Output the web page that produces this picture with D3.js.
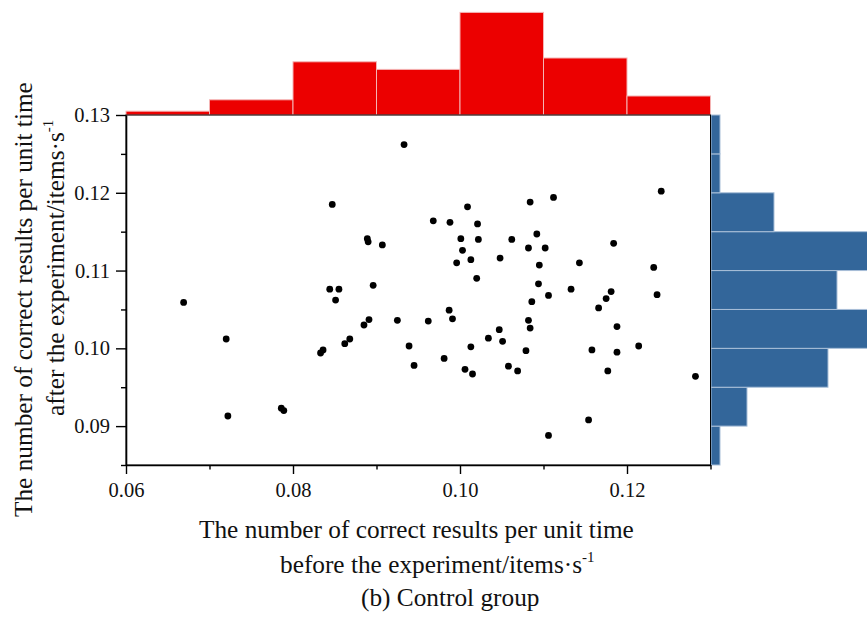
<!DOCTYPE html>
<html>
<head>
<meta charset="utf-8">
<script src="https://cdn.jsdelivr.net/npm/d3@7"></script>
<style>
  body { margin: 0; background: #fff; }
  svg { display: block; font-family: "Liberation Serif", "Times New Roman", serif; }
</style>
</head>
<body>
<svg id="chart" width="867" height="619"></svg>
<script>
// scatter values (before, after)
const before = [
  0.0933, 0.0847, 0.0889, 0.0890, 0.0907, 0.0844, 0.0855, 0.0851, 0.0896, 0.0669,
  0.0891, 0.0885, 0.0925, 0.0720, 0.0862, 0.0868, 0.0833, 0.0836, 0.0939, 0.0945,
  0.0722, 0.0786, 0.0789, 0.1241, 0.1112, 0.1084, 0.1009, 0.0968, 0.0988, 0.1021,
  0.1092, 0.1001, 0.1022, 0.1062, 0.1184, 0.1082, 0.1102, 0.1003, 0.1013, 0.1048,
  0.0996, 0.1143, 0.1095, 0.1232, 0.1020, 0.1094, 0.1133, 0.1181, 0.1106, 0.1236,
  0.1175, 0.1086, 0.1166, 0.0987, 0.0991, 0.0962, 0.1082, 0.1084, 0.1047, 0.1188,
  0.1034, 0.1051, 0.1013, 0.1214, 0.1079, 0.1158, 0.1188, 0.0981, 0.1058, 0.1006,
  0.1069, 0.1177, 0.1015, 0.1282, 0.1154, 0.1106
];
const after = [
  0.1262, 0.1185, 0.1141, 0.1137, 0.1133, 0.1076, 0.1076, 0.1062, 0.1081, 0.1059,
  0.1037, 0.1030, 0.1036, 0.1012, 0.1006, 0.1012, 0.0994, 0.0998, 0.1003, 0.0978,
  0.0913, 0.0923, 0.0920, 0.1202, 0.1194, 0.1188, 0.1182, 0.1164, 0.1162, 0.1160,
  0.1147, 0.1141, 0.1140, 0.1140, 0.1135, 0.1129, 0.1129, 0.1126, 0.1114, 0.1116,
  0.1110, 0.1110, 0.1107, 0.1104, 0.1090, 0.1083, 0.1076, 0.1073, 0.1068, 0.1069,
  0.1064, 0.1060, 0.1052, 0.1049, 0.1038, 0.1035, 0.1036, 0.1026, 0.1024, 0.1028,
  0.1013, 0.1009, 0.1002, 0.1003, 0.0997, 0.0998, 0.0995, 0.0987, 0.0977, 0.0973,
  0.0971, 0.0971, 0.0967, 0.0964, 0.0908, 0.0888
];

// marginal histograms (counts)
const topBinEdges = [0.06, 0.07, 0.08, 0.09, 0.10, 0.11, 0.12, 0.13];
const topBinCounts = [1, 4, 14, 12, 27, 15, 5];
const sideBinEdges = [0.085, 0.09, 0.095, 0.10, 0.105, 0.11, 0.115, 0.12, 0.125, 0.13];
const sideBinCounts = [1, 4, 13, 19, 14, 18, 7, 1, 1];

const xMajorTicks = [0.06, 0.08, 0.10, 0.12];
const xMinorTicks = [0.07, 0.09, 0.11, 0.13];
const yMajorTicks = [0.09, 0.10, 0.11, 0.12, 0.13];
const yMinorTicks = [0.085, 0.095, 0.105, 0.115, 0.125];

const svg = d3.select('#chart');

const x = d3.scaleLinear().domain([0.06, 0.13]).range([126, 710.5]);
const y = d3.scaleLinear().domain([0.085, 0.13]).range([465, 115]);
const topH = d3.scaleLinear().domain([0, 30]).range([115, 1]);
const sideW = d3.scaleLinear().domain([0, 20]).range([711, 891]);

// top histogram
svg.append('g')
  .selectAll('rect')
  .data(topBinCounts)
  .enter().append('rect')
    .attr('x', function(d, i) { return x(topBinEdges[i]); })
    .attr('width', function(d, i) { return x(topBinEdges[i + 1]) - x(topBinEdges[i]); })
    .attr('y', function(d) { return topH(d); })
    .attr('height', function(d) { return topH(0) - topH(d); })
    .attr('fill', '#ec0000')
    .attr('stroke', '#f4b4b4')
    .attr('stroke-width', 1);

// side histogram
svg.append('g')
  .selectAll('rect')
  .data(sideBinCounts)
  .enter().append('rect')
    .attr('x', sideW(0))
    .attr('y', function(d, i) { return y(sideBinEdges[i + 1]); })
    .attr('height', function(d, i) { return y(sideBinEdges[i]) - y(sideBinEdges[i + 1]); })
    .attr('width', function(d) { return sideW(d) - sideW(0); })
    .attr('fill', '#33669a')
    .attr('stroke', '#a9bfd8')
    .attr('stroke-width', 1);

// frame
svg.append('rect')
  .attr('x', x(0.06)).attr('y', y(0.13))
  .attr('width', x(0.13) - x(0.06)).attr('height', y(0.085) - y(0.13))
  .attr('fill', 'none').attr('stroke', '#000').attr('stroke-width', 1);

// axes
svg.append('g')
  .attr('transform', 'translate(0,' + y(0.085) + ')')
  .call(d3.axisBottom(x).tickValues(xMajorTicks).tickFormat(d3.format('.2f'))
    .tickSize(9).tickSizeOuter(0).tickPadding(8));
svg.append('g')
  .attr('transform', 'translate(0,' + y(0.085) + ')')
  .call(d3.axisBottom(x).tickValues(xMinorTicks).tickFormat('').tickSize(4.5).tickSizeOuter(0))
  .select('.domain').remove();

svg.append('g')
  .attr('transform', 'translate(' + x(0.06) + ',0)')
  .call(d3.axisLeft(y).tickValues(yMajorTicks).tickFormat(d3.format('.2f'))
    .tickSize(10).tickSizeOuter(0).tickPadding(6));
svg.append('g')
  .attr('transform', 'translate(' + x(0.06) + ',0)')
  .call(d3.axisLeft(y).tickValues(yMinorTicks).tickFormat('').tickSize(5).tickSizeOuter(0))
  .select('.domain').remove();

svg.selectAll('.domain').attr('stroke-width', 1.6);
svg.selectAll('.tick line').attr('stroke-width', 1.4);
svg.selectAll('.tick text')
  .attr('font-family', '"Liberation Serif", serif')
  .attr('font-size', 20.5)
  .attr('fill', '#111');

// points
svg.append('g')
  .selectAll('circle')
  .data(before)
  .enter().append('circle')
    .attr('cx', function(d) { return x(d); })
    .attr('cy', function(d, i) { return y(after[i]); })
    .attr('r', 3.4)
    .attr('fill', '#000');

// axis titles
function titleLine(g, txt, sup) {
  g.append('tspan').text(txt);
  if (sup) {
    g.append('tspan').attr('font-size', 15).attr('dy', -11).text(sup);
  }
}

const xt1 = svg.append('text').attr('x', 199).attr('y', 538).attr('font-size', 25.3).attr('fill', '#111');
titleLine(xt1, 'The number of correct results per unit time');
const xt2 = svg.append('text').attr('x', 280).attr('y', 573).attr('font-size', 25.3).attr('fill', '#111');
titleLine(xt2, 'before the experiment/items\u00b7s', '-1');

const yt1 = svg.append('text').attr('transform', 'translate(31.5,517) rotate(-90)')
  .attr('font-size', 25.3).attr('fill', '#111');
titleLine(yt1, 'The number of correct results per unit time');
const yt2 = svg.append('text').attr('transform', 'translate(63.5,416) rotate(-90)')
  .attr('font-size', 25.3).attr('fill', '#111');
titleLine(yt2, 'after the experiment/items\u00b7s', '-1');

svg.append('text').attr('x', 361).attr('y', 606)
  .attr('font-size', 25.3).attr('fill', '#111').text('(b) Control group');
</script>
</body>
</html>
